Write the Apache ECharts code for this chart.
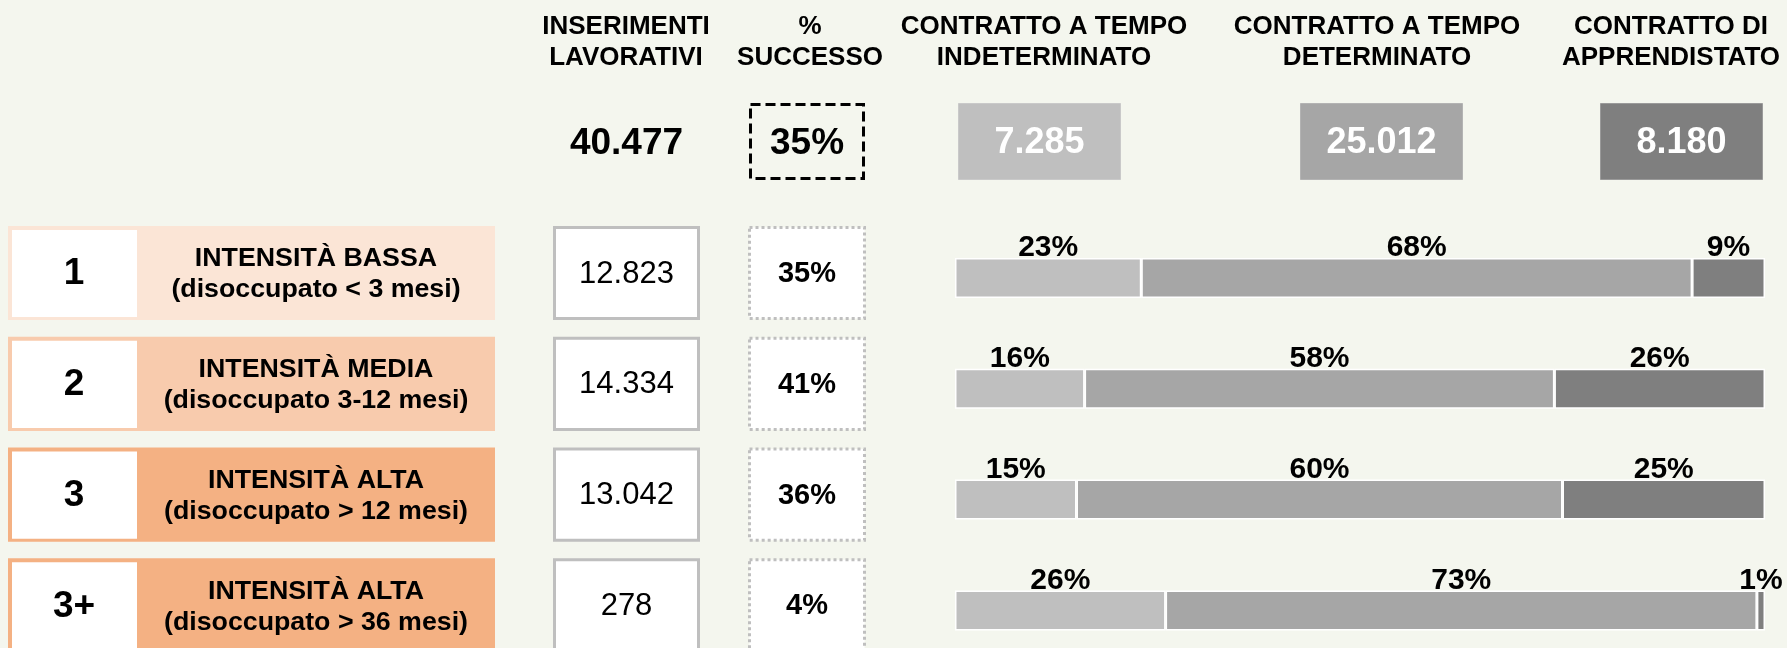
<!DOCTYPE html>
<html>
<head>
<meta charset="utf-8">
<script src="https://cdn.jsdelivr.net/npm/echarts@6/dist/echarts.min.js"></script>
<style>
  html, body { margin: 0; padding: 0; background: #f4f6ee; }
  #chart { width: 1787px; height: 648px; }
</style>
</head>
<body>
<div id="chart"></div>
<script>
// dati
var ROWS = ['1', '2', '3', '3+'];
var ROW_TITLES = ['INTENSITÀ BASSA', 'INTENSITÀ MEDIA', 'INTENSITÀ ALTA', 'INTENSITÀ ALTA'];
var ROW_SUBTITLES = ['(disoccupato < 3 mesi)', '(disoccupato 3-12 mesi)', '(disoccupato > 12 mesi)', '(disoccupato > 36 mesi)'];
var INSERIMENTI = [12823, 14334, 13042, 278];
var SUCCESSO = [35, 41, 36, 4];
var PCT_INDETERMINATO = [23, 16, 15, 26];
var PCT_DETERMINATO = [68, 58, 60, 73];
var PCT_APPRENDISTATO = [9, 26, 25, 1];
var HEADERS = ['INSERIMENTI\nLAVORATIVI', '%\nSUCCESSO', 'CONTRATTO A TEMPO\nINDETERMINATO', 'CONTRATTO A TEMPO\nDETERMINATO', 'CONTRATTO DI\nAPPRENDISTATO'];
var TOT_INSERIMENTI = 40477;
var TOT_SUCCESSO = 35;
var TOT_CONTRATTI = [7285, 25012, 8180];

// stili
var FONT = '"Liberation Sans", Arial, Helvetica, sans-serif';
var ROW_COLORS = ['#fbe5d6', '#f8cbad', '#f4b183', '#f4b183'];
var GREYS = ['#bfbfbf', '#a6a6a6', '#7f7f7f'];
var GREY_EDGES = ['#c9c9c9', '#b3b3b3', '#9a9a9a'];

function fmt(n) {
  return String(n).replace(/\B(?=(\d{3})+(?!\d))/g, '.');
}

function cell(params, api, ratio) {
  var cs = params.coordSys;
  var cy = api.coord([0, api.value(1)])[1];
  var h = api.size([0, 1])[1] * ratio;
  return { x: cs.x, y: cy - h / 2, w: cs.width, h: h, cy: cy };
}

function txt(x, y, text, size, weight, color, extra) {
  var el = {
    type: 'text', x: x, y: y,
    style: {
      text: text, fontSize: size, fontWeight: weight, fontFamily: FONT,
      fill: color, align: 'center', verticalAlign: 'middle'
    }
  };
  if (extra) {
    for (var k in extra) {
      if (k === 'style') {
        for (var s in extra.style) el.style[s] = extra.style[s];
      } else {
        el[k] = extra[k];
      }
    }
  }
  return el;
}

var ROW_RATIO = 0.85;
var rowTop = 217.6, rowHeight = 443.2;

var grids = [
  { left: 8, width: 487, top: rowTop, height: rowHeight },      // 0 etichette
  { left: 553, width: 147, top: rowTop, height: rowHeight },    // 1 inserimenti
  { left: 748, width: 118, top: rowTop, height: rowHeight },    // 2 successo
  { left: 955, width: 810, top: rowTop + 5, height: rowHeight },// 3 barre
  { left: 553, width: 147, top: 103, height: 77 },              // 4 totale inserimenti
  { left: 749, width: 116, top: 103, height: 77 },              // 5 totale successo
  { left: 958, width: 163, top: 103, height: 77 },              // 6
  { left: 1300, width: 163, top: 103, height: 77 },             // 7
  { left: 1600, width: 163, top: 103, height: 77 }              // 8
];
grids.forEach(function (g) { g.outerBoundsMode = 'none'; });

var xAxes = [], yAxes = [];
grids.forEach(function (g, i) {
  xAxes.push({ type: 'value', gridIndex: i, min: 0, max: i === 3 ? 100 : 1, show: false });
  yAxes.push({ type: 'category', gridIndex: i, inverse: true, show: false,
    data: i < 4 ? ROWS : ['Totale'] });
});

var rowData = ROWS.map(function (r, i) { return [0, i]; });

var series = [];

// colonna etichette
series.push({
  type: 'custom', xAxisIndex: 0, yAxisIndex: 0, data: rowData,
  renderItem: function (params, api) {
    var i = api.value(1);
    var b = cell(params, api, ROW_RATIO);
    return { type: 'group', children: [
      { type: 'rect', shape: { x: b.x, y: b.y, width: b.w, height: b.h }, style: { fill: ROW_COLORS[i] } },
      { type: 'rect', shape: { x: b.x + 4, y: b.y + 4, width: 125, height: b.h - 7 }, style: { fill: '#fff' } },
      txt(b.x + 66, b.cy + 1, ROWS[i], 37, 'bold', '#000'),
      txt(b.x + 129 + (b.w - 129) / 2, b.cy + 2, ROW_TITLES[i] + '\n' + ROW_SUBTITLES[i], 25, 'bold', '#000',
        { scaleX: 1.07, style: { lineHeight: 31 } })
    ] };
  }
});

// inserimenti per riga
series.push({
  type: 'custom', xAxisIndex: 1, yAxisIndex: 1, data: rowData,
  renderItem: function (params, api) {
    var i = api.value(1);
    var b = cell(params, api, ROW_RATIO);
    return { type: 'group', children: [
      { type: 'rect', shape: { x: b.x + 1.5, y: b.y + 1.5, width: b.w - 3, height: b.h - 3 },
        style: { fill: '#fff', stroke: '#bfbfbf', lineWidth: 3 } },
      txt(b.x + b.w / 2, b.cy + 1, fmt(INSERIMENTI[i]), 31, 'normal', '#000')
    ] };
  }
});

// % successo per riga
series.push({
  type: 'custom', xAxisIndex: 2, yAxisIndex: 2, data: rowData,
  renderItem: function (params, api) {
    var i = api.value(1);
    var b = cell(params, api, ROW_RATIO);
    return { type: 'group', children: [
      { type: 'rect', shape: { x: b.x + 1.5, y: b.y + 1.5, width: b.w - 3, height: b.h - 3 },
        style: { fill: '#fff', stroke: '#bfbfbf', lineWidth: 3, lineDash: [3, 3] } },
      txt(b.x + b.w / 2, b.cy + 1, SUCCESSO[i] + '%', 29, 'bold', '#000')
    ] };
  }
});

// barre in pila
[PCT_INDETERMINATO, PCT_DETERMINATO, PCT_APPRENDISTATO].forEach(function (vals, k) {
  series.push({
    type: 'bar', xAxisIndex: 3, yAxisIndex: 3, stack: 'contratti',
    barWidth: 40, data: vals,
    itemStyle: { color: GREYS[k], borderColor: '#fff', borderWidth: 1.5 },
    label: {
      show: true, position: 'top', distance: -5,
      formatter: '{c}%', color: '#000', fontSize: 30, fontWeight: 'bold', fontFamily: FONT
    },
    silent: true
  });
});

// totale inserimenti
series.push({
  type: 'custom', xAxisIndex: 4, yAxisIndex: 4, data: [[0, 0]],
  renderItem: function (params, api) {
    var b = cell(params, api, 1);
    return txt(b.x + b.w / 2, b.cy + 2, fmt(TOT_INSERIMENTI), 37, 'bold', '#000');
  }
});

// totale successo
series.push({
  type: 'custom', xAxisIndex: 5, yAxisIndex: 5, data: [[0, 0]],
  renderItem: function (params, api) {
    var b = cell(params, api, 1);
    return { type: 'group', children: [
      { type: 'rect', shape: { x: b.x + 1.5, y: b.y + 1.5, width: b.w - 3, height: b.h - 3 },
        style: { fill: 'none', stroke: '#000', lineWidth: 3, lineDash: [10, 5] } },
      txt(b.x + b.w / 2, b.cy + 2, TOT_SUCCESSO + '%', 37, 'bold', '#000')
    ] };
  }
});

// totali per tipo di contratto
TOT_CONTRATTI.forEach(function (v, k) {
  series.push({
    type: 'custom', xAxisIndex: 6 + k, yAxisIndex: 6 + k, data: [[0, 0]],
    renderItem: function (params, api) {
      var b = cell(params, api, 1);
      return { type: 'group', children: [
        { type: 'rect', shape: { x: b.x + 0.5, y: b.y + 0.5, width: b.w - 1, height: b.h - 1 },
          style: { fill: GREYS[k], stroke: GREY_EDGES[k], lineWidth: 1 } },
        txt(b.x + b.w / 2, b.cy + 2, fmt(v), 36, 'bold', '#fff')
      ] };
    }
  });
});

// intestazioni
var HEADER_X = [626, 810, 1044, 1377, 1671];
var graphics = HEADERS.map(function (h, i) {
  return {
    type: 'text', x: HEADER_X[i], y: 42,
    style: {
      text: h, fontSize: 26, fontWeight: 'bold', fontFamily: FONT, lineHeight: 31,
      fill: '#000', align: 'center', verticalAlign: 'middle'
    }
  };
});

var chart = echarts.init(document.getElementById('chart'), null, { renderer: 'canvas' });
chart.setOption({
  backgroundColor: '#f4f6ee',
  animation: false,
  grid: grids,
  xAxis: xAxes,
  yAxis: yAxes,
  series: series,
  graphic: graphics
});
</script>
</body>
</html>
